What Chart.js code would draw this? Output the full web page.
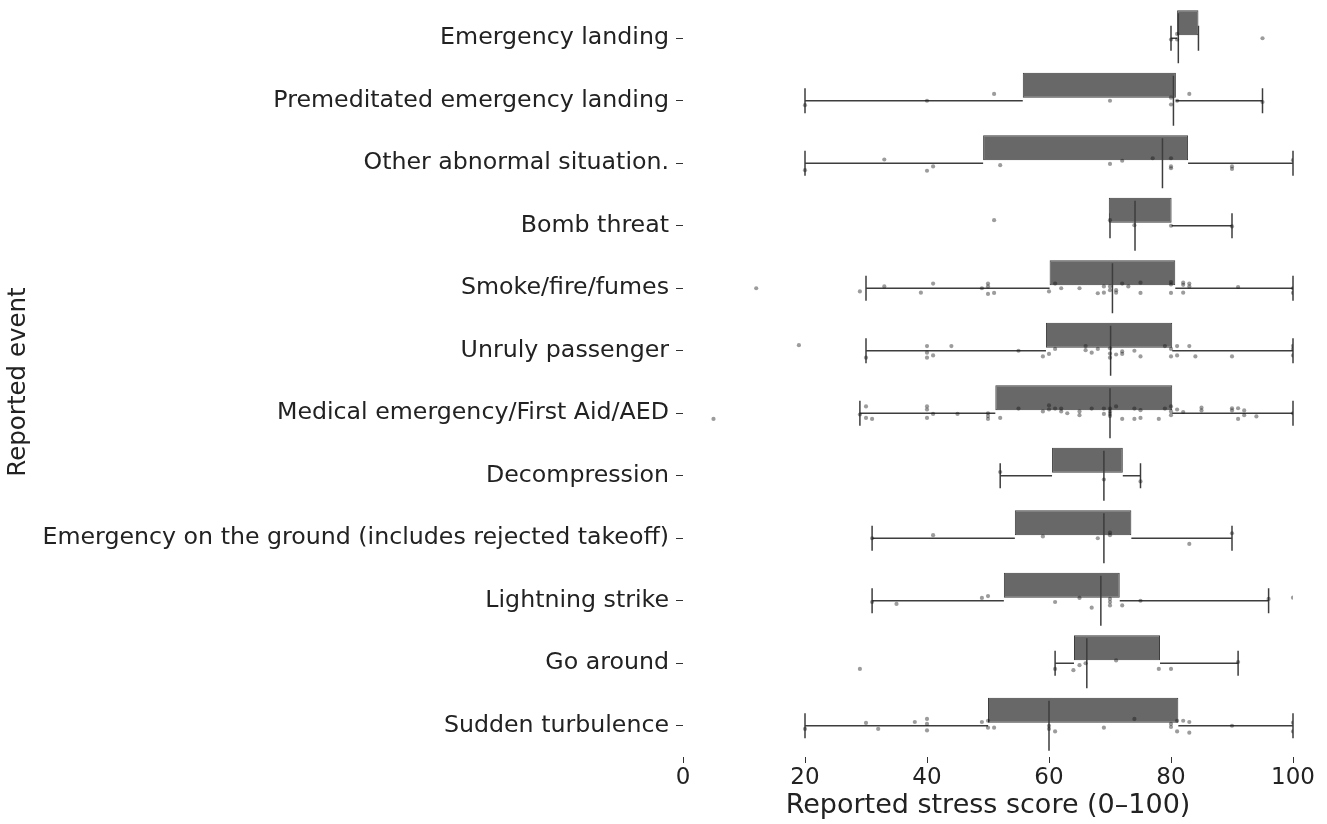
<!DOCTYPE html>
<html>
<head>
<meta charset="utf-8">
<script src="https://cdn.jsdelivr.net/npm/chart.js@4.4.1/dist/chart.umd.min.js"></script>
<style>
  html, body { margin: 0; padding: 0; background: #ffffff; }
  #wrap { width: 1327px; height: 824px; }
</style>
</head>
<body>
<div id="wrap"><canvas id="chart" width="1327" height="824"></canvas></div>
<script>
// Reported events, top to bottom
const categories = [
  'Emergency landing',
  'Premeditated emergency landing',
  'Other abnormal situation.',
  'Bomb threat',
  'Smoke/fire/fumes',
  'Unruly passenger',
  'Medical emergency/First Aid/AED',
  'Decompression',
  'Emergency on the ground (includes rejected takeoff)',
  'Lightning strike',
  'Go around',
  'Sudden turbulence'
];

// Box-plot summary per event
const whiskerLow  = [80, 20, 20, 70, 30, 30, 29, 52, 31, 31, 61, 20];
const quartile1   = [81, 55.7, 49.2, 69.8, 60.1, 59.5, 51.2, 60.5, 54.4, 52.6, 64.1, 50.0];
const medians     = [81.2, 80.4, 78.6, 74.1, 70.4, 70.1, 70.0, 69.0, 69.0, 68.5, 66.2, 60.0];
const quartile3   = [84.5, 80.8, 82.8, 80.1, 80.7, 80.2, 80.2, 72.1, 73.5, 71.6, 78.2, 81.2];
const whiskerHigh = [84.5, 95, 100, 90, 100, 100, 100, 75, 90, 96, 91, 100];

// Individual responses: [score, vertical jitter within the row]
const responses = [
  [[80, 0.02], [81, -0.07], [81, 0.02], [95, 0.0]],
  [[20, 0.07], [40, 0], [51, -0.11], [70, 0], [80, -0.05], [80, 0.06], [81, 0], [83, -0.11], [95, 0.02]],
  [[20, 0.11], [33, -0.06], [40, 0.12], [41, 0.05], [52, 0.03], [70, 0.01], [72, -0.04], [77, -0.08],
   [80, -0.08], [80, 0.05], [80, 0.08], [90, 0.05], [90, 0.09], [100, -0.05]],
  [[51, -0.09], [70, -0.09], [74, -0.01], [80, 0], [90, 0.01]],
  [[12, 0], [29, 0.05], [33, -0.03], [39, 0.07], [41, -0.075], [49, 0], [50, -0.075], [50, -0.03],
   [50, 0.09], [51, 0.075], [60, 0.05], [61, -0.075], [62, 0], [65, 0], [68, 0.08], [69, -0.03],
   [69, 0.07], [70, -0.03], [70, 0.03], [71, 0.03], [71, 0.07], [72, -0.075], [73, -0.03], [75, -0.09],
   [75, 0.075], [80, -0.1], [80, -0.06], [80, 0.075], [82, -0.09], [82, -0.055], [82, 0.07], [83, -0.075],
   [83, -0.03], [91, -0.02], [100, 0], [100, 0.075]],
  [[19, -0.09], [30, 0.11], [40, -0.075], [40, 0.03], [40, 0.11], [41, 0.075], [44, -0.075], [55, 0],
   [59, 0.09], [60, 0.05], [61, -0.03], [66, -0.075], [66, -0.01], [67, 0.03], [68, -0.03], [70, -0.04],
   [70, 0.045], [70, 0.11], [71, 0.06], [72, 0.01], [72, 0.05], [74, 0], [75, 0.09], [79, -0.075],
   [80, -0.03], [80, 0.09], [81, -0.075], [81, 0.075], [83, -0.075], [84, 0.09], [90, 0.09],
   [100, -0.08], [100, -0.03], [100, 0.075]],
  [[5, 0.09], [29, 0.02], [30, -0.11], [30, 0.075], [31, 0.09], [40, -0.11], [40, -0.06], [40, 0.075],
   [41, 0.01], [45, 0.01], [50, 0], [50, 0.045], [50, 0.09], [52, 0.075], [55, -0.075], [59, -0.03],
   [60, -0.125], [60, -0.06], [61, -0.075], [62, -0.075], [62, -0.03], [63, 0], [65, -0.03], [65, 0.03],
   [67, -0.075], [69, -0.075], [69, 0.01], [70, -0.075], [70, -0.03], [70, 0.01], [70, 0.045], [71, -0.11],
   [72, 0.09], [74, -0.075], [74, 0.09], [75, -0.05], [75, 0.075], [78, 0.09], [79, -0.075], [80, -0.11],
   [80, -0.03], [80, 0.03], [81, -0.06], [82, -0.02], [85, -0.09], [85, -0.045], [90, -0.08], [90, -0.045],
   [91, -0.08], [91, 0.09], [92, -0.045], [92, 0.03], [94, 0.05], [100, 0]],
  [[52, -0.06], [69, 0.06], [75, 0.09]],
  [[31, 0], [41, -0.05], [59, -0.03], [68, 0], [70, -0.09], [70, -0.05], [83, 0.09], [90, -0.08]],
  [[31, 0.02], [35, 0.05], [49, -0.045], [50, -0.075], [61, 0.02], [65, -0.045], [67, 0.11], [70, -0.03],
   [70, 0.02], [70, 0.075], [72, 0.075], [75, 0], [96, -0.03], [100, -0.05]],
  [[29, 0.09], [61, 0.09], [64, 0.11], [65, 0.03], [66, 0], [71, -0.045], [78, 0.09], [80, 0.09], [91, -0.02]],
  [[20, 0.05], [30, -0.045], [32, 0.05], [38, -0.06], [40, -0.11], [40, -0.03], [40, 0.075], [49, -0.06],
   [50, -0.08], [50, 0.03], [51, 0.03], [60, 0], [60, 0.05], [61, 0.09], [69, 0.03], [74, -0.11],
   [80, -0.03], [80, 0.02], [81, -0.08], [81, 0.09], [82, -0.08], [83, -0.06], [83, 0.11], [90, 0],
   [100, -0.05], [100, 0.09]]
];

const xTicks = [0, 20, 40, 60, 80, 100];

const FONT = "'DejaVu Sans', 'Liberation Sans', sans-serif";
const LINE = '#3d3d3d';
const BOX_WIDTH = 0.8;
const CAP_WIDTH = 0.4;

const boxRanges = quartile1.map((q, i) => [q, quartile3[i]]);
const pointData = [];
responses.forEach((row, i) => row.forEach(([v, j]) => pointData.push({ x: v, y: i + j })));

// Whiskers, caps and median lines, placed through the chart's own scales
const boxParts = {
  id: 'boxParts',
  beforeDatasetsDraw(chart) {
    const { ctx } = chart;
    const xs = chart.scales.x, ys = chart.scales.yPos;
    ctx.save();
    ctx.strokeStyle = LINE;
    ctx.lineWidth = 1.5;
    categories.forEach((c, i) => {
      const yc = ys.getPixelForValue(i);
      const half = Math.abs(ys.getPixelForValue(i + CAP_WIDTH / 2) - yc);
      const segs = [[whiskerLow[i], quartile1[i]], [quartile3[i], whiskerHigh[i]]];
      segs.forEach(([a, b]) => {
        if (b - a <= 0.01) return;
        ctx.beginPath();
        ctx.moveTo(xs.getPixelForValue(a), yc);
        ctx.lineTo(xs.getPixelForValue(b), yc);
        ctx.stroke();
      });
      [whiskerLow[i], whiskerHigh[i]].forEach(v => {
        const px = xs.getPixelForValue(v);
        ctx.beginPath();
        ctx.moveTo(px, yc - half);
        ctx.lineTo(px, yc + half);
        ctx.stroke();
      });
    });
    ctx.restore();
  },
  afterDatasetDraw(chart, args) {
    if (args.index !== 0) return;
    const { ctx } = chart;
    const xs = chart.scales.x, ys = chart.scales.yPos;
    ctx.save();
    ctx.strokeStyle = LINE;
    ctx.lineWidth = 1.5;
    categories.forEach((c, i) => {
      const yc = ys.getPixelForValue(i);
      const half = Math.abs(ys.getPixelForValue(i + BOX_WIDTH / 2) - yc);
      const px = xs.getPixelForValue(medians[i]);
      ctx.beginPath();
      ctx.moveTo(px, yc - half);
      ctx.lineTo(px, yc + half);
      ctx.stroke();
    });
    ctx.restore();
  }
};

new Chart(document.getElementById('chart'), {
  type: 'bar',
  data: {
    labels: categories,
    datasets: [
      {
        type: 'bar',
        data: boxRanges,
        order: 1,
        xAxisID: 'x',
        yAxisID: 'y',
        backgroundColor: '#686868',
        borderColor: LINE,
        borderWidth: 1,
        borderSkipped: false,
        barPercentage: BOX_WIDTH,
        categoryPercentage: 1.0
      },
      {
        type: 'scatter',
        data: pointData,
        order: 0,
        xAxisID: 'x',
        yAxisID: 'yPos',
        pointRadius: 2.1,
        pointBorderWidth: 0,
        backgroundColor: 'rgba(20,20,20,0.42)',
        borderColor: 'rgba(20,20,20,0)'
      }
    ]
  },
  options: {
    indexAxis: 'y',
    responsive: false,
    animation: false,
    events: [],
    layout: { padding: { left: 0, right: 34, top: 7, bottom: 0 } },
    plugins: { legend: { display: false }, tooltip: { enabled: false } },
    scales: {
      x: {
        type: 'linear',
        position: 'bottom',
        min: 0,
        max: 100,
        afterBuildTicks: s => { s.ticks = xTicks.map(v => ({ value: v })); },
        afterFit: s => { s.height = 67; s.paddingLeft = 0; s.paddingRight = 0; },
        grid: { display: true, drawOnChartArea: false, drawTicks: true, tickLength: 6, color: '#333' },
        border: { display: false },
        ticks: { color: '#222', padding: 1, font: { family: FONT, size: 23 } },
        title: { display: true, text: 'Reported stress score (0–100)', color: '#222',
                 font: { family: FONT, size: 27 }, padding: { top: 0, bottom: 2 } }
      },
      y: {
        type: 'category',
        position: 'left',
        offset: true,
        afterFit: s => { s.width = 683; s.paddingTop = 0; s.paddingBottom = 0; },
        grid: { display: true, drawOnChartArea: false, drawTicks: true, tickLength: 7, color: '#333', offset: false },
        border: { display: false },
        ticks: { color: '#222', padding: 7, font: { family: FONT, size: 23.7 } },
        title: { display: true, text: 'Reported event', color: '#222',
                 font: { family: FONT, size: 24.5 }, padding: { top: 4, bottom: 0 } }
      },
      yPos: {
        type: 'linear',
        display: false,
        offset: false,
        grace: 0,
        min: -0.5,
        max: categories.length - 0.5,
        reverse: true
      }
    }
  },
  plugins: [boxParts]
});
</script>
</body>
</html>
